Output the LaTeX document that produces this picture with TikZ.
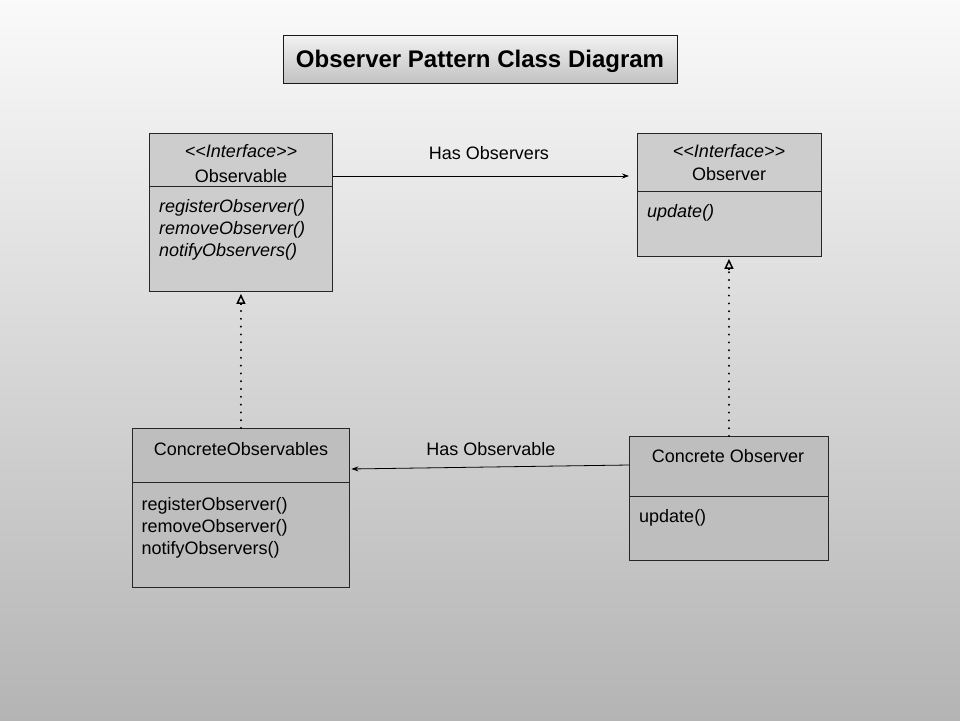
\documentclass[tikz,border=0pt]{standalone}
\usepackage{fontspec}
\setmainfont{Liberation Sans}
\usetikzlibrary{arrows.meta}
\definecolor{bgtop}{HTML}{FAFAFA}
\definecolor{bgbot}{HTML}{B4B4B4}
\definecolor{boxtop}{HTML}{CDCDCD}
\definecolor{boxbot}{HTML}{BEBEBE}
\definecolor{ttop}{HTML}{F2F2F2}
\definecolor{tbot}{HTML}{C2C2C2}
\tikzset{
  classbox/.style={draw=black!85, line width=0.9pt, rectangle, inner sep=0pt, anchor=north west},
  divider/.style={draw=black!85, line width=0.9pt},
  txt/.style={inner sep=0pt, anchor=base, font=\fontsize{18}{21}\selectfont},
  ltxt/.style={txt, anchor=base west},
  assoc/.style={draw=black, line width=0.8pt, -{Stealth[length=7pt,width=5pt]}},
  realize/.style={draw=black, line width=2.2pt, dash pattern=on 0pt off 7.8pt, line cap=round},
  realtip/.style={draw=black, line width=1.5pt, -{Triangle[open, length=10pt, width=9pt, line width=1.5pt]}}
}
\begin{document}
\begin{tikzpicture}[x=1pt,y=-1pt]
\useasboundingbox (0,0) rectangle (960,720);
\shade[top color=bgtop, bottom color=bgbot] (0,0) rectangle (960,720);

% title
\node[draw=black!90, line width=1pt, top color=ttop, bottom color=tbot, minimum width=394pt, minimum height=48pt, inner sep=0pt] (title) at (480,59) {};
\node[inner sep=0pt, anchor=base, font=\fontsize{24}{28}\selectfont\bfseries] (titletext) at (480,67.5) {Observer Pattern Class Diagram};

% Observable
\node[classbox, fill=boxtop, minimum width=183pt, minimum height=158pt] (obs) at (149,133) {};
\draw[divider] ([yshift=-53pt]obs.north west) -- ([yshift=-53pt]obs.north east);
\node[txt] (obsst) at (241,157) {\itshape <{}<Interface>{}>};
\node[txt] (obsnm) at (241,182) {Observable};
\node[ltxt] (obsm1) at (159,212) {\itshape registerObserver()};
\node[ltxt] (obsm2) at (159,234) {\itshape removeObserver()};
\node[ltxt] (obsm3) at (159,256) {\itshape notifyObservers()};

% Observer
\node[classbox, fill=boxtop, minimum width=184pt, minimum height=123pt] (obsr) at (637,133) {};
\draw[divider] ([yshift=-58pt]obsr.north west) -- ([yshift=-58pt]obsr.north east);
\node[txt] (obsrst) at (729,157) {\itshape <{}<Interface>{}>};
\node[txt] (obsrnm) at (729,180.5) {Observer};
\node[ltxt] (obsrm1) at (647,217) {\itshape update()};

% ConcreteObservables
\node[classbox, fill=boxbot, minimum width=217pt, minimum height=159pt] (cobs) at (132,428) {};
\draw[divider] ([yshift=-54pt]cobs.north west) -- ([yshift=-54pt]cobs.north east);
\node[txt] (cobsnm) at (241,455) {ConcreteObservables};
\node[ltxt] (cobsm1) at (141.5,510) {registerObserver()};
\node[ltxt] (cobsm2) at (141.5,532) {removeObserver()};
\node[ltxt] (cobsm3) at (141.5,554) {notifyObservers()};

% Concrete Observer
\node[classbox, fill=boxbot, minimum width=199pt, minimum height=124pt] (cobsr) at (629,436) {};
\draw[divider] ([yshift=-60pt]cobsr.north west) -- ([yshift=-60pt]cobsr.north east);
\node[txt] (cobsrnm) at (728,462.5) {Concrete Observer};
\node[ltxt] (cobsrm1) at (639,522.5) {update()};

% connectors
\draw[assoc, shorten >=8pt] ([yshift=-43pt]obs.north east) -- ([yshift=-43pt]obs.north east -| obsr.west);
\node[txt] (lbl1) at (489,159) {Has Observers};

\draw[assoc, shorten >=1.5pt] ([yshift=-29pt]cobsr.north west) -- ([yshift=-41pt]cobs.north east);
\node[txt] (lbl2) at (491,455) {Has Observable};

% realization (dotted line + open triangle head)
\draw[realize] (cobs.north) -- ([yshift=-12pt]cobs.north |- obs.south);
\draw[realtip, shorten >=2pt] ([yshift=-12pt]cobs.north |- obs.south) -- (cobs.north |- obs.south);
\draw[realize] (cobsr.north) -- ([yshift=-12pt]cobsr.north |- obsr.south);
\draw[realtip, shorten >=2pt] ([yshift=-12pt]cobsr.north |- obsr.south) -- (cobsr.north |- obsr.south);
\end{tikzpicture}
\end{document}
